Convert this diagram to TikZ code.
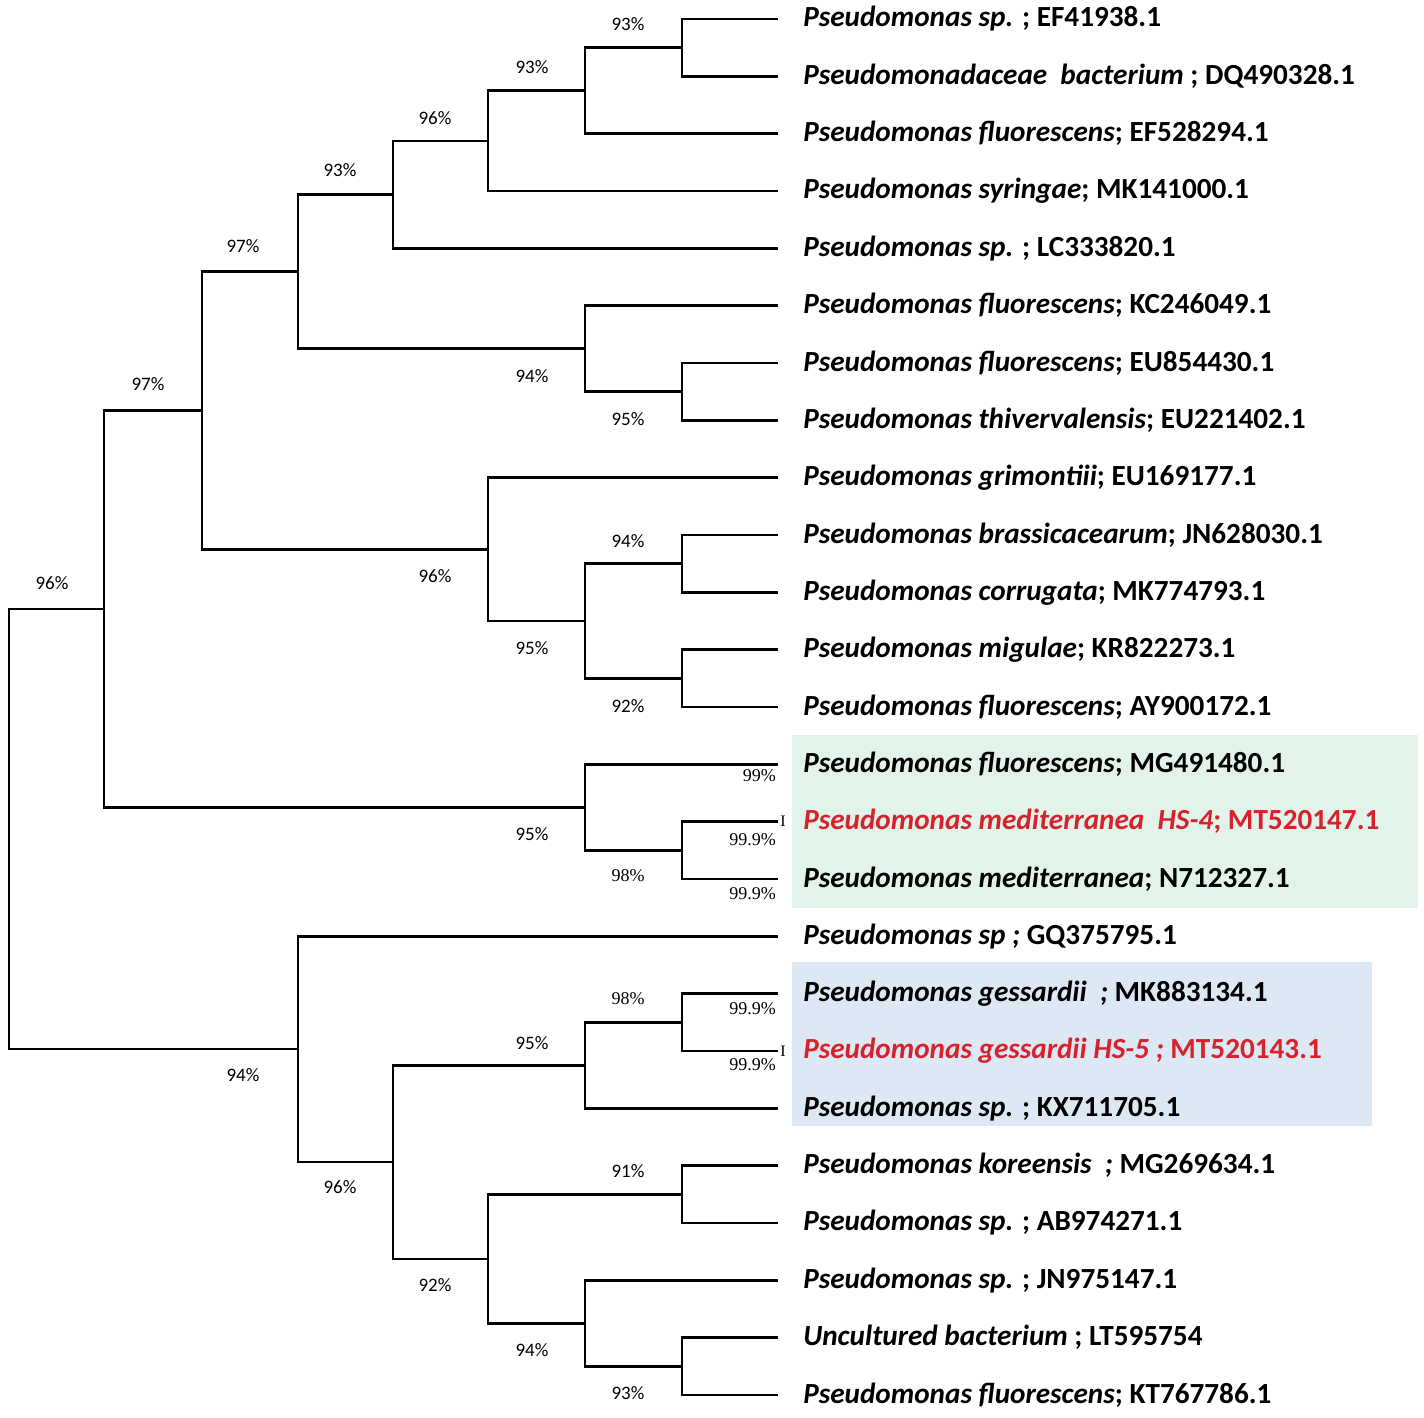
\documentclass[tikz,border=0pt]{standalone}
\usepackage{fontspec}
\setmainfont{Carlito}
\newfontfamily\serifnum{Liberation Serif}
\definecolor{hsred}{RGB}{214,34,44}
\definecolor{mint}{RGB}{226,243,234}
\definecolor{paleblue}{RGB}{220,232,243}

\begin{document}
\begin{tikzpicture}[x=0.5pt,y=-0.5pt,line width=1.25pt,
    leaf node/.style={anchor=west,inner xsep=12pt,inner ysep=0pt,
      font=\bfseries\fontsize{14.6}{16}\selectfont},
    boot/.style={inner sep=0pt,font=\fontsize{9.5}{10}\selectfont},
    boot serif/.style={inner sep=0pt,font=\serifnum\fontsize{9}{10}\selectfont},
    cursor/.style={inner sep=0pt,font=\serifnum\fontsize{8}{9}\selectfont}]

  \useasboundingbox (0,0) rectangle (1424,1418);
  \fill[mint] (792,735) rectangle (1418,908);
  \fill[paleblue] (792,962) rectangle (1372,1126);

  \node[leaf node] (1) at (778,19) {\textit{Pseudomonas sp.} ; EF41938.1};
  \node[leaf node] (2) at (778,76.3) {\textit{Pseudomonadaceae~ bacterium} ; DQ490328.1};
  \node[leaf node] (3) at (778,133.7) {\textit{Pseudomonas fluorescens}; EF528294.1};
  \node[leaf node] (4) at (778,191) {\textit{Pseudomonas syringae}; MK141000.1};
  \node[leaf node] (5) at (778,248.3) {\textit{Pseudomonas sp.} ; LC333820.1};
  \node[leaf node] (6) at (778,305.7) {\textit{Pseudomonas fluorescens}; KC246049.1};
  \node[leaf node] (7) at (778,363) {\textit{Pseudomonas fluorescens}; EU854430.1};
  \node[leaf node] (8) at (778,420.3) {\textit{Pseudomonas thivervalensis}; EU221402.1};
  \node[leaf node] (9) at (778,477.7) {\textit{Pseudomonas grimontiii}; EU169177.1};
  \node[leaf node] (10) at (778,535) {\textit{Pseudomonas brassicacearum}; JN628030.1};
  \node[leaf node] (11) at (778,592.3) {\textit{Pseudomonas corrugata}; MK774793.1};
  \node[leaf node] (12) at (778,649.7) {\textit{Pseudomonas migulae}; KR822273.1};
  \node[leaf node] (13) at (778,707) {\textit{Pseudomonas fluorescens}; AY900172.1};
  \node[leaf node] (14) at (778,764.3) {\textit{Pseudomonas fluorescens}; MG491480.1};
  \node[leaf node,text=hsred] (15) at (778,821.7) {\textit{Pseudomonas mediterranea~ HS-4}; MT520147.1};
  \node[leaf node] (16) at (778,879) {\textit{Pseudomonas mediterranea}; N712327.1};
  \node[leaf node] (17) at (778,936.3) {\textit{Pseudomonas sp ;} GQ375795.1};
  \node[leaf node] (18) at (778,993.7) {\textit{Pseudomonas gessardii~ ;} MK883134.1};
  \node[leaf node,text=hsred] (19) at (778,1051) {\textit{Pseudomonas gessardii HS-5 ;} MT520143.1};
  \node[leaf node] (20) at (778,1108.3) {\textit{Pseudomonas sp.} ; KX711705.1};
  \node[leaf node] (21) at (778,1165.7) {\textit{Pseudomonas koreensis~ ;} MG269634.1};
  \node[leaf node] (22) at (778,1223) {\textit{Pseudomonas sp.} ; AB974271.1};
  \node[leaf node] (23) at (778,1280.3) {\textit{Pseudomonas sp.} ; JN975147.1};
  \node[leaf node] (24) at (778,1337.7) {\textit{Uncultured bacterium} ; LT595754};
  \node[leaf node] (25) at (778,1395) {\textit{Pseudomonas fluorescens}; KT767786.1};

  \coordinate (a1) at (682,47.7);
  \coordinate (a2) at (585,90.7);
  \coordinate (a3) at (488,140.8);
  \coordinate (a4) at (393,194.6);
  \coordinate (b1) at (682,391.7);
  \coordinate (b2) at (585,348.7);
  \coordinate (a5) at (298,271.6);
  \coordinate (c1) at (682,563.7);
  \coordinate (c2) at (682,678.3);
  \coordinate (c3) at (585,621);
  \coordinate (c4) at (488,549.3);
  \coordinate (a6) at (202,410.5);
  \coordinate (d1) at (682,850.3);
  \coordinate (d2) at (585,807.3);
  \coordinate (a7) at (104,608.9);
  \coordinate (e1) at (682,1022.3);
  \coordinate (e2) at (585,1065.3);
  \coordinate (f1) at (682,1194.3);
  \coordinate (g1) at (682,1366.3);
  \coordinate (g2) at (585,1323.3);
  \coordinate (f2) at (488,1258.8);
  \coordinate (e3) at (393,1162);
  \coordinate (e4) at (298,1049.2);
  \coordinate (root) at (9,829);

  \draw (a1) |- (1) (a1) |- (2);
  \draw (a2) |- (a1) (a2) |- (3);
  \draw (a3) |- (a2) (a3) |- (4);
  \draw (a4) |- (a3) (a4) |- (5);
  \draw (b1) |- (7) (b1) |- (8);
  \draw (b2) |- (6) (b2) |- (b1);
  \draw (a5) |- (a4) (a5) |- (b2);
  \draw (c1) |- (10) (c1) |- (11);
  \draw (c2) |- (12) (c2) |- (13);
  \draw (c3) |- (c1) (c3) |- (c2);
  \draw (c4) |- (9) (c4) |- (c3);
  \draw (a6) |- (a5) (a6) |- (c4);
  \draw (d1) |- (15) (d1) |- (16);
  \draw (d2) |- (14) (d2) |- (d1);
  \draw (a7) |- (a6) (a7) |- (d2);
  \draw (e1) |- (18) (e1) |- (19);
  \draw (e2) |- (e1) (e2) |- (20);
  \draw (f1) |- (21) (f1) |- (22);
  \draw (g1) |- (24) (g1) |- (25);
  \draw (g2) |- (23) (g2) |- (g1);
  \draw (f2) |- (f1) (f2) |- (g2);
  \draw (e3) |- (e2) (e3) |- (f2);
  \draw (e4) |- (17) (e4) |- (e3);
  \draw (root) |- (a7) (root) |- (e4);

  \node[boot] at (628,24) {93\%};
  \node[boot] at (532,67) {93\%};
  \node[boot] at (435,118) {96\%};
  \node[boot] at (340,170) {93\%};
  \node[boot] at (243,246) {97\%};
  \node[boot] at (148,384) {97\%};
  \node[boot] at (52,583) {96\%};
  \node[boot] at (532,376) {94\%};
  \node[boot] at (628,419) {95\%};
  \node[boot] at (435,576) {96\%};
  \node[boot] at (628,541) {94\%};
  \node[boot] at (532,648) {95\%};
  \node[boot] at (628,706) {92\%};
  \node[boot] at (532,834) {95\%};
  \node[boot serif] at (628,876) {98\%};
  \node[boot serif,anchor=east] at (777,776) {99\%};
  \node[boot serif,anchor=east] at (777,840) {99.9\%};
  \node[boot serif,anchor=east] at (777,894) {99.9\%};
  \node[boot] at (243,1075) {94\%};
  \node[boot] at (340,1187) {96\%};
  \node[boot] at (532,1043) {95\%};
  \node[boot serif] at (628,999) {98\%};
  \node[boot serif,anchor=east] at (777,1009) {99.9\%};
  \node[boot serif,anchor=east] at (777,1065) {99.9\%};
  \node[boot] at (628,1171) {91\%};
  \node[boot] at (435,1285) {92\%};
  \node[boot] at (532,1350) {94\%};
  \node[boot] at (628,1393) {93\%};
  \node[cursor] at (783,821.7) {I};
  \node[cursor] at (783,1051) {I};
\end{tikzpicture}
\end{document}
